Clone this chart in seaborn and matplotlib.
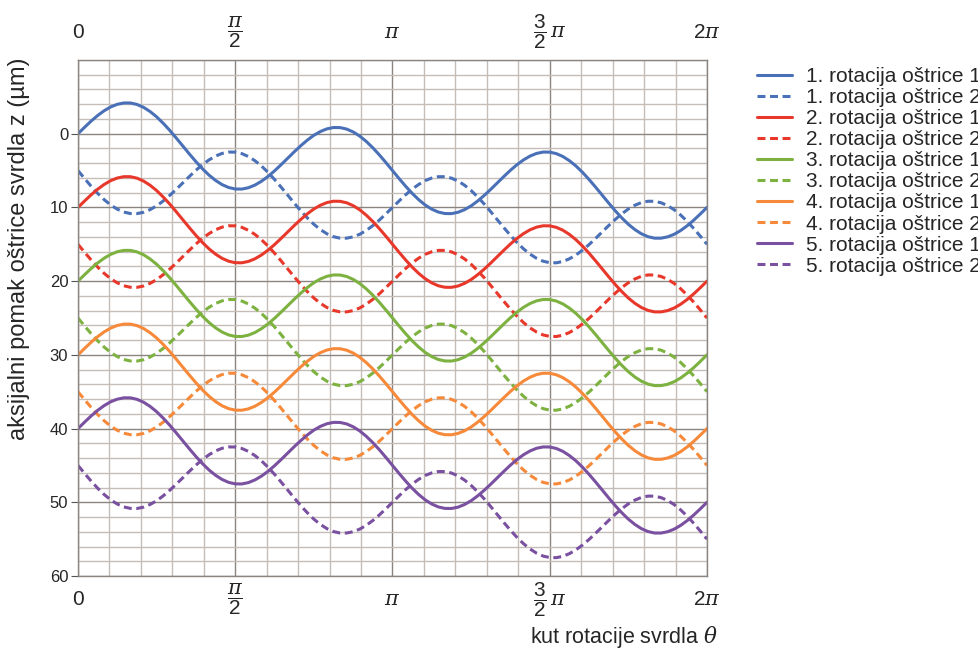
import numpy as np
import pandas as pd
import seaborn as sns
import matplotlib
matplotlib.use("Agg")
import matplotlib.pyplot as plt
from matplotlib.ticker import MultipleLocator

# kut rotacije, korak pi/48 (0 .. 2pi)
theta = np.arange(97) * np.pi / 48

# 1. rotacija, ostrica 1 (um)
blade1 = [0.00, -0.87, -1.71, -2.47, -3.12, -3.64, -3.99, -4.17,
          -4.17, -3.97, -3.58, -3.01, -2.29, -1.42, -0.46, 0.59,
          1.67, 2.75, 3.79, 4.76, 5.62, 6.34, 6.91, 7.30,
          7.50, 7.51, 7.33, 6.97, 6.45, 5.80, 5.04, 4.20,
          3.33, 2.46, 1.63, 0.87, 0.21, -0.30, -0.66, -0.84,
          -0.83, -0.63, -0.24, 0.32, 1.05, 1.91, 2.88, 3.92,
          5.00, 6.08, 7.12, 8.09, 8.95, 9.68, 10.24, 10.63,
          10.83, 10.84, 10.66, 10.30, 9.79, 9.13, 8.37, 7.54,
          6.67, 5.80, 4.96, 4.20, 3.55, 3.03, 2.67, 2.49,
          2.50, 2.70, 3.09, 3.66, 4.38, 5.24, 6.21, 7.25,
          8.33, 9.41, 10.46, 11.42, 12.29, 13.01, 13.58, 13.97,
          14.17, 14.17, 13.99, 13.64, 13.12, 12.47, 11.71, 10.87,
          10.00]

# 1. rotacija, ostrica 2 (um)
blade2 = [5.00, 6.08, 7.12, 8.09, 8.95, 9.68, 10.24, 10.63,
          10.83, 10.84, 10.66, 10.30, 9.79, 9.13, 8.37, 7.54,
          6.67, 5.80, 4.96, 4.20, 3.55, 3.03, 2.67, 2.49,
          2.50, 2.70, 3.09, 3.66, 4.38, 5.24, 6.21, 7.25,
          8.33, 9.41, 10.46, 11.42, 12.29, 13.01, 13.58, 13.97,
          14.17, 14.17, 13.99, 13.64, 13.12, 12.47, 11.71, 10.87,
          10.00, 9.13, 8.29, 7.53, 6.88, 6.36, 6.01, 5.83,
          5.83, 6.03, 6.42, 6.99, 7.71, 8.58, 9.54, 10.59,
          11.67, 12.75, 13.79, 14.76, 15.62, 16.34, 16.91, 17.30,
          17.50, 17.51, 17.33, 16.97, 16.45, 15.80, 15.04, 14.20,
          13.33, 12.46, 11.63, 10.87, 10.21, 9.70, 9.34, 9.16,
          9.17, 9.37, 9.76, 10.32, 11.05, 11.91, 12.88, 13.92,
          15.00]

# pomak svake rotacije (posmak 10 um po okretaju)
rotation_shift = [0, 10, 20, 30, 40]
rotations = ['1.', '2.', '3.', '4.', '5.']
colors = ['#4a70b7', '#e8382b', '#7db241', '#f68a3a', '#7a50a0']

xticks = [0, np.pi / 2, np.pi, 3 * np.pi / 2, 2 * np.pi]
xticklabels = ['0', r'$\dfrac{\pi}{2}$', r'$\pi$', r'$\dfrac{3}{2}\,\pi$', r'$2\pi$']
yticks = [0, 10, 20, 30, 40, 50, 60]

sns.set_style('white')
plt.rcParams['font.family'] = ['Liberation Sans', 'DejaVu Sans']
plt.rcParams['mathtext.fontset'] = 'custom'
plt.rcParams['mathtext.rm'] = 'Liberation Sans'
plt.rcParams['mathtext.it'] = 'DejaVu Serif:italic'
plt.rcParams['mathtext.cal'] = 'Liberation Sans'

fig = plt.figure(figsize=(9.79, 6.52), dpi=100)
ax = fig.add_axes([78 / 979, 1 - 576 / 652, 629 / 979, 516 / 652])

for r, shift in enumerate(rotation_shift):
    for b, base in enumerate([blade1, blade2]):
        lbl = f'{rotations[r]} rotacija oštrice {b + 1}'
        z = np.array(base) + shift
        sns.lineplot(x=theta, y=z, ax=ax, color=colors[r], linewidth=2.2,
                     linestyle='-' if b == 0 else (0, (2.6, 1.5)),
                     label=lbl, legend=False)

ax.set_xlim(0, 2 * np.pi)
ax.set_ylim(60, -10)

# mreza
ax.xaxis.set_minor_locator(MultipleLocator(np.pi / 10))
ax.yaxis.set_minor_locator(MultipleLocator(2))
ax.set_xticks(xticks)
ax.set_yticks(yticks)
ax.grid(which='major', color='#8a8580', linewidth=1.0)
ax.grid(which='minor', color='#c4bdb8', linewidth=1.0)
ax.set_axisbelow(True)
for s in ax.spines.values():
    s.set_color('#8a8580')
    s.set_linewidth(1.0)

ax.set_xticklabels(xticklabels, fontsize=15)
ax.tick_params(axis='x', which='both', length=0, pad=17)
for t in ax.get_xticklabels():
    t.set_va('center')
ax.tick_params(axis='y', which='major', length=5, pad=2, labelsize=12,
               left=True, color='#555555')
ax.tick_params(axis='y', which='minor', length=0)

top = ax.secondary_xaxis('top')
top.set_xticks(xticks)
top.set_xticklabels(xticklabels, fontsize=15)
top.tick_params(length=0, pad=20)
top.spines['top'].set_visible(False)
for t in top.get_xticklabels():
    t.set_va('center')

ax.set_ylabel('aksijalni pomak oštrice svrdla z (µm)', fontsize=17)
ax.yaxis.set_label_coords(-0.076, 0.634)
fig.text(718 / 979, 1 - 637 / 652, 'kut rotacije svrdla $\\theta$', fontsize=15.5,
         ha='right', va='center')

handles, labels = ax.get_legend_handles_labels()
fig.legend(handles, labels, loc='upper left', bbox_to_anchor=(757 / 979, 1 - 67 / 652),
           frameon=False, fontsize=15, handlelength=1.7, labelspacing=0.1,
           handletextpad=0.65, borderaxespad=0, borderpad=0)

fig.savefig('out.png', dpi=100)
